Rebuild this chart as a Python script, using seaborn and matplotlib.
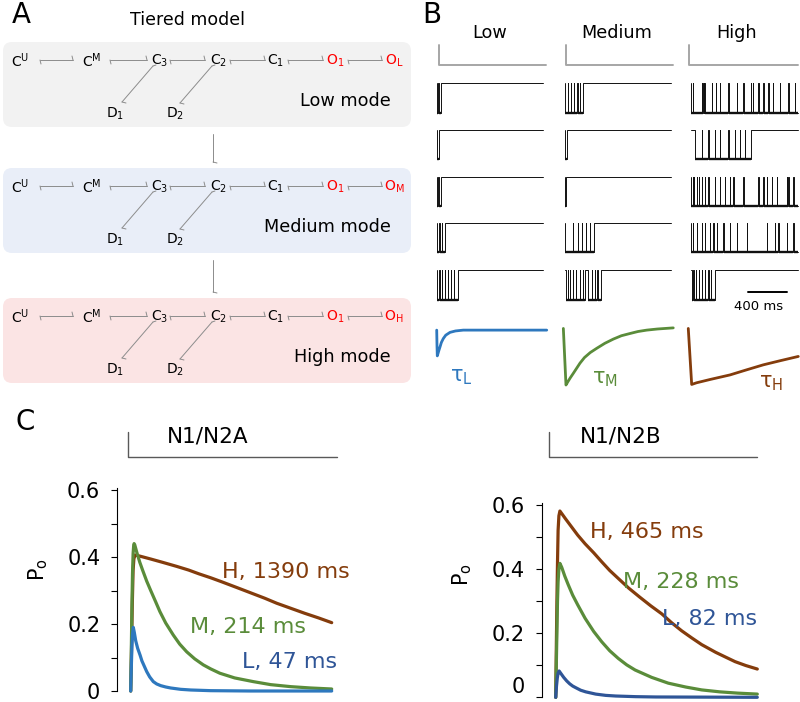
import matplotlib
matplotlib.use("Agg")
import matplotlib.pyplot as plt
import seaborn as sns
from matplotlib.patches import FancyBboxPatch

# ---------------------------------------------------------------- data
# Panel A: kinetic scheme
tier_names = ["Low mode", "Medium mode", "High mode"]
tier_open = ["L", "M", "H"]
chain_states = [r"C$^{\mathregular{U}}$", r"C$^{\mathregular{M}}$", r"C$_{3}$",
                r"C$_{2}$", r"C$_{1}$", r"O$_{1}$"]
desens_states = [r"D$_{1}$", r"D$_{2}$"]

# Panel B: single-channel records (ms); open periods and brief closures
b_modes = ["Low", "Medium", "High"]
low_open = [[(3, 38)], [(2, 22)], [(3, 38)], [(2, 78)], [(3, 212)]]
low_closures = [[15], [], [13], [23, 48], [24, 53, 80, 113, 145, 176]]
med_open = [[(5, 188)], [(3, 16)], [(3, 12)], [(5, 300)], [(7, 205), (240, 367)]]
med_closures = [[28, 59, 93, 126, 154], [], [], [80, 130, 175, 215, 255],
                [28, 51, 79, 113, 154, 182, 274, 308, 332]]
high_open = [[(5, 1100)], [(40, 613)], [(5, 1100)], [(5, 1100)], [(7, 247)]]
high_closures = [
    [17, 110, 126, 137, 213, 257, 298, 384, 470, 538, 614, 634, 692, 743, 795, 840, 915, 1000, 1069],
    [110, 178, 247, 298, 384, 452, 504, 555],
    [17, 31, 58, 82, 110, 144, 178, 247, 298, 350, 401, 435, 538, 692, 743, 778, 830, 881, 984, 1000, 1052],
    [17, 58, 110, 144, 195, 229, 264, 332, 401, 470, 573, 778, 864, 898, 984, 1052],
    [24, 51, 82, 110, 144, 178, 206],
]
trace_end = [1090, 1087, 1100]
stim_on_b = [24, 7, -24]
stim_off_b = [1120, 1110, 1100]
scale_bar_ms = [586, 986]

# Panel B: time-course sketches
tauL_t = [-3, 0, 3, 10, 20, 31, 45, 65, 90, 134, 190, 270, 1128]
tauL_y = [-0.02, -0.3, -0.48, -0.44, -0.38, -0.32, -0.24, -0.17, -0.11, -0.06, -0.035, -0.02, -0.02]
tauM_t = [-17, 10, 30, 55, 86, 120, 154, 200, 260, 326, 410, 497, 580, 669, 750, 840, 950, 1113]
tauM_y = [0.01, -1.0, -0.94, -0.87, -0.79, -0.7, -0.61, -0.51, -0.42, -0.345, -0.255, -0.18,
          -0.12, -0.08, -0.045, -0.02, 0.0, 0.02]
tauH_t = [-28, 7, 58, 200, 401, 570, 743, 920, 1103]
tauH_y = [0.01, -0.99, -0.96, -0.90, -0.82, -0.73, -0.64, -0.565, -0.49]
tau_labels = [r"τ$_{\mathregular{L}}$", r"τ$_{\mathregular{M}}$", r"τ$_{\mathregular{H}}$"]

# Panel C: open probability (ms, Po)
A_L_t = [0, 3, 6, 9, 13, 18, 25, 35, 47, 56, 65, 80, 95, 113, 130, 150, 175, 200, 250, 300,
         400, 600, 1005]
A_L_po = [0, 0.07, 0.13, 0.17, 0.19, 0.175, 0.15, 0.127, 0.107, 0.09, 0.078, 0.058, 0.042,
          0.028, 0.021, 0.016, 0.012, 0.009, 0.005, 0.003, 0.001, 0.0, 0.0]
A_M_t = [0, 3, 6, 9, 12, 15, 17, 20, 30, 45, 60, 80, 100, 125, 146, 175, 213, 245, 280, 320,
         363, 400, 446, 520, 613, 700, 800, 900, 1005]
A_M_po = [0, 0.12, 0.25, 0.35, 0.41, 0.435, 0.44, 0.437, 0.415, 0.385, 0.36, 0.328, 0.30,
          0.266, 0.237, 0.203, 0.167, 0.14, 0.117, 0.096, 0.078, 0.066, 0.053, 0.039, 0.028,
          0.019, 0.013, 0.009, 0.006]
A_H_t = [0, 4, 8, 12, 16, 22, 50, 100, 160, 230, 290, 340, 400, 455, 530, 600, 670, 730, 800,
         870, 940, 1005]
A_H_po = [0, 0.12, 0.26, 0.36, 0.395, 0.406, 0.402, 0.394, 0.384, 0.372, 0.361, 0.35, 0.338,
          0.326, 0.309, 0.293, 0.277, 0.262, 0.247, 0.232, 0.218, 0.204]
B_L_t = [0, 4, 8, 12, 17, 25, 40, 55, 70, 85, 100, 125, 150, 200, 250, 300, 400, 500, 1008]
B_L_po = [0, 0.035, 0.06, 0.075, 0.082, 0.075, 0.062, 0.051, 0.042, 0.035, 0.03, 0.022,
          0.017, 0.01, 0.006, 0.004, 0.002, 0.001, 0.0]
B_M_t = [0, 3, 6, 9, 12, 16, 21, 30, 45, 63, 85, 110, 147, 190, 230, 270, 313, 355, 397, 480,
         563, 650, 730, 820, 910, 1008]
B_M_po = [0, 0.10, 0.20, 0.30, 0.36, 0.40, 0.417, 0.405, 0.378, 0.35, 0.318, 0.288, 0.246,
          0.205, 0.173, 0.145, 0.121, 0.101, 0.085, 0.062, 0.044, 0.032, 0.023, 0.017, 0.013,
          0.010]
B_H_t = [0, 3, 6, 9, 12, 16, 21, 35, 50, 80, 110, 147, 190, 230, 270, 313, 365, 420, 475, 530,
         580, 630, 680, 730, 800, 850, 897, 950, 1008]
B_H_po = [0, 0.15, 0.30, 0.42, 0.52, 0.565, 0.58, 0.568, 0.555, 0.53, 0.505, 0.478, 0.45,
          0.422, 0.395, 0.37, 0.34, 0.312, 0.285, 0.26, 0.232, 0.207, 0.185, 0.164, 0.14,
          0.125, 0.111, 0.099, 0.088]
labels_A = ["H, 1390 ms", "M, 214 ms", "L, 47 ms"]
labels_B = ["H, 465 ms", "M, 228 ms", "L, 82 ms"]
label_pos_A = [(456, 0.355), (296, 0.19), (556, 0.087)]
label_pos_B = [(171, 0.515), (336, 0.359), (531, 0.244)]
stim_A = ([-12, -12, 1030], [1, 0, 0])
stim_B = ([-32, -32, 1008], [1, 0, 0])
yticks = [0, 0.2, 0.4, 0.6]
yticklabels = ["0", "0.2", "0.4", "0.6"]

# ---------------------------------------------------------------- style
sns.set_style("white")
plt.rcParams["font.family"] = ["DejaVu Sans"]
plt.rcParams["mathtext.fontset"] = "dejavusans"
plt.rcParams["text.color"] = "black"
plt.rcParams["axes.labelcolor"] = "black"
plt.rcParams["xtick.color"] = "black"
plt.rcParams["ytick.color"] = "black"

BROWN = "#843c0c"
GREEN = "#5a8c3a"
BLUE_L = "#2e78be"
BLUE_D = "#2f5597"
RED = "#ff0000"
GREY = "#8c8c8c"

W, H = 800, 702
fig = plt.figure(figsize=(8, 7.02), dpi=100)
fig.patch.set_facecolor("white")


def px_axes(x, y, w, h):
    ax = fig.add_axes([x / W, 1 - (y + h) / H, w / W, h / H])
    ax.patch.set_alpha(0)
    return ax


def ftext(x, y, s, **kw):
    fig.text(x / W, 1 - y / H, s, **kw)


def line(ax, x, y, **kw):
    sns.lineplot(x=x, y=y, ax=ax, estimator=None, sort=False, legend=False, **kw)


# ---------------------------------------------------------------- panel A
ax_a = px_axes(0, 0, 420, 395)
ax_a.set_xlim(0, 420)
ax_a.set_ylim(395, 0)
ax_a.axis("off")
ftext(21, 15, "A", fontsize=20, ha="center", va="center")
ftext(187, 20, "Tiered model", fontsize=12.5, ha="center", va="center")

box_tops = [42, 168, 298]
box_cols = ["#f2f2f2", "#e9eef8", "#fbe4e4"]
state_x = [20, 92, 160, 219, 276, 335, 394]
h_links = [(40, 73), (110, 147), (170, 205), (230, 265), (288, 323), (348, 382)]
diag = [(153, 5, 122, 41), (212, 5, 180, 42)]
d_x = [115, 175]
for k in range(3):
    top = box_tops[k]
    ax_a.add_patch(FancyBboxPatch((3, top), 408, 85,
                                  boxstyle="round,pad=0,rounding_size=9",
                                  fc=box_cols[k], ec="none", zorder=0))
    yr = top + 19
    labs = chain_states + [r"O$_{\mathregular{%s}}$" % tier_open[k]]
    for i, (x, s) in enumerate(zip(state_x, labs)):
        ax_a.text(x, yr, s, ha="center", va="center", fontsize=10,
                  color=RED if i >= 5 else "black")
    for x0, x1 in h_links:
        ax_a.plot([x0, x1], [yr - 1, yr - 1], color=GREY, lw=0.7)
        ax_a.plot([x0, x0 + 1], [yr - 1, yr + 3], color=GREY, lw=0.7)
        ax_a.plot([x1, x1 - 1], [yr - 1, yr - 5], color=GREY, lw=0.7)
    for (xa, ya, xb, yb) in diag:
        ax_a.plot([xa, xb], [yr + ya, yr + yb], color=GREY, lw=0.7)
        ax_a.plot([xb, xb + 4], [yr + yb, yr + yb + 1], color=GREY, lw=0.7)
        ax_a.plot([xa, xa + 3], [yr + ya, yr + ya - 1], color=GREY, lw=0.7)
    for x, s in zip(d_x, desens_states):
        ax_a.text(x, yr + 53, s, ha="center", va="center", fontsize=10)
    ax_a.text(391, top + 59, tier_names[k], ha="right", va="center", fontsize=12.7)
    if k < 2:
        yb0 = top + 92
        yb1 = box_tops[k + 1] - 6
        ax_a.plot([213, 213], [yb0, yb1], color=GREY, lw=0.7)
        ax_a.plot([213, 217], [yb1, yb1 + 1], color=GREY, lw=0.7)

# ---------------------------------------------------------------- panel B
MS_PX = 10.28
col_x = [437, 565, 691]
row_y = [83, 129.5, 176.5, 223, 270]
head_x = [490, 617, 737]
ftext(432, 15, "B", fontsize=20, ha="center", va="center")

opens = [low_open, med_open, high_open]
closes = [low_closures, med_closures, high_closures]
GAP = 3


def trace_xy(open_periods, closures, t_end, w=GAP):
    t, y = [0.0], [0.0]
    for a, b in open_periods:
        t += [a, a]
        y += [0, -1]
        for c in closures:
            if a < c < b:
                t += [c, c, c + w, c + w]
                y += [-1, 0, 0, -1]
        if b < t_end:
            t += [b, b]
            y += [-1, 0]
        else:
            t += [t_end]
            y += [-1]
    if y[-1] == 0:
        t.append(t_end)
        y.append(0)
    return t, y


def open_segments(open_periods, closures, t_end, w=GAP):
    segs = []
    for a, b in open_periods:
        b = min(b, t_end)
        edges = [a] + [v for c in closures if a < c < b for v in (c, c + w)] + [b]
        for i in range(0, len(edges) - 1, 2):
            segs.append((edges[i], edges[i + 1]))
    return segs


for c in range(3):
    ftext(head_x[c], 33.5, b_modes[c], fontsize=12.7, ha="center", va="center")
    ax_s = px_axes(col_x[c] - 5, 40, 120, 30)
    line(ax_s, [stim_on_b[c], stim_on_b[c], stim_off_b[c]], [1, 0, 0],
         color="#a6a6a6", lw=1.4)
    ax_s.set_xlim(-5 * MS_PX, 115 * MS_PX)
    ax_s.set_ylim(-0.25, 1.25)
    ax_s.axis("off")
    for r in range(5):
        ax_t = px_axes(col_x[c] - 5, row_y[r] - 6, 120, 42)
        tx, ty = trace_xy(opens[c][r], closes[c][r], trace_end[c])
        line(ax_t, tx, ty, color="#111111", lw=0.7)
        for a, b in open_segments(opens[c][r], closes[c][r], trace_end[c]):
            ax_t.plot([a, b], [-1, -1], color="#111111", lw=1.7, solid_capstyle="butt")
        ax_t.set_xlim(-5 * MS_PX, 115 * MS_PX)
        ax_t.set_ylim(-36 / 29.5, 6 / 29.5)
        ax_t.axis("off")
        if c == 2 and r == 4:
            line(ax_t, scale_bar_ms, [-0.736, -0.736], color="black", lw=1.4)
ftext(759, 307, "400 ms", fontsize=9.5, ha="center", va="center")

tau_t = [tauL_t, tauM_t, tauH_t]
tau_y = [tauL_y, tauM_y, tauH_y]
tau_cols = [BLUE_L, GREEN, BROWN]
tau_lab_xy = [(461, 377), (605, 379), (771, 383)]
for c in range(3):
    ax_k = px_axes(col_x[c] - 5, 318, 120, 72)
    line(ax_k, tau_t[c], tau_y[c], color=tau_cols[c], lw=2.0)
    ax_k.set_xlim(-5 * MS_PX, 115 * MS_PX)
    ax_k.set_ylim(-61 / 56, 11 / 56)
    ax_k.axis("off")
    for ln in ax_k.lines:
        ln.set_clip_on(False)
    ftext(tau_lab_xy[c][0], tau_lab_xy[c][1], tau_labels[c], fontsize=15,
          color=tau_cols[c], ha="center", va="center")

# ---------------------------------------------------------------- panel C
ftext(25, 422, "C", fontsize=20, ha="center", va="center")

panels = [
    dict(rect=(117, 488, 228, 203), x0=130.7, top=0.606, title="N1/N2A", tx=208,
         curves=[(A_H_t, A_H_po, BROWN), (A_M_t, A_M_po, GREEN), (A_L_t, A_L_po, BLUE_L)],
         labels=labels_A, lpos=label_pos_A, lcols=[BROWN, GREEN, BLUE_D],
         stim=stim_A, ylab=(38, 570), lift_zero=False),
    dict(rect=(541.7, 503, 228.3, 194.3), x0=555.7, top=0.605, title="N1/N2B", tx=621,
         curves=[(B_H_t, B_H_po, BROWN), (B_M_t, B_M_po, GREEN), (B_L_t, B_L_po, BLUE_D)],
         labels=labels_B, lpos=label_pos_B, lcols=[BROWN, GREEN, BLUE_D],
         stim=stim_B, ylab=(462, 575), lift_zero=True),
]
for p in panels:
    x, y, w, h = p["rect"]
    xl = ((x - p["x0"]) * 5, (x + w - p["x0"]) * 5)
    ax = px_axes(x, y, w, h)
    for t, po, col in p["curves"]:
        line(ax, t, po, color=col, lw=2.3)
    for ln in ax.lines:
        ln.set_clip_on(False)
        ln.set_solid_joinstyle("round")
    ax.set_xlim(*xl)
    ax.set_ylim(0, p["top"])
    ax.set_xlabel("")
    ax.set_ylabel("")
    for s in ["top", "right", "bottom"]:
        ax.spines[s].set_visible(False)
    ax.spines["left"].set_color("black")
    ax.spines["left"].set_linewidth(0.8)
    ax.set_xticks([])
    ax.set_yticks(yticks)
    ax.set_yticklabels(yticklabels)
    ax.set_yticks([0.1, 0.3, 0.5], minor=True)
    ax.tick_params(axis="y", which="both", direction="out", length=4, width=0.8,
                   color="black", labelsize=15, pad=8, left=True)
    if p["lift_zero"]:
        ax.get_yticklabels()[0].set_verticalalignment("bottom")
    for (lx, ly), s, col in zip(p["lpos"], p["labels"], p["lcols"]):
        ax.text(lx, ly, s, color=col, fontsize=16, ha="left", va="center")
    ftext(p["ylab"][0], p["ylab"][1], r"P$_{\mathregular{o}}$", fontsize=15,
          rotation=90, ha="center", va="center")
    ax_s = px_axes(x, 425, w, 40)
    line(ax_s, p["stim"][0], p["stim"][1], color="#595959", lw=1.0)
    ax_s.set_xlim(*xl)
    ax_s.set_ylim((457.3 - 465) / 25.6, (457.3 - 425) / 25.6)
    ax_s.axis("off")
    ftext(p["tx"], 437, p["title"], fontsize=15.5, ha="center", va="center")

fig.savefig("out.png", dpi=100, facecolor="white")
